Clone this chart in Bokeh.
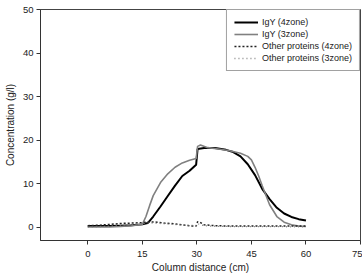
from bokeh.plotting import figure
from bokeh.models import Range1d, FixedTicker, Legend, LegendItem
from bokeh.embed import file_html
from bokeh.resources import INLINE

# Data
igy4_x = [0, 3, 6, 9, 12, 15, 16.5, 18, 20, 22, 24, 26, 28, 29.8, 30.2, 32, 35, 38, 40, 42, 44, 46, 48, 50, 52, 54, 56, 58, 60]
igy4_y = [0.3, 0.3, 0.3, 0.4, 0.5, 0.7, 1.0, 2.5, 4.8, 7.2, 9.6, 11.8, 13.0, 14.4, 18.0, 18.2, 18.2, 17.8, 17.3, 16.3, 14.5, 12.0, 8.8, 6.5, 4.5, 3.2, 2.4, 1.9, 1.6]

igy3_x = [0, 3, 6, 9, 12, 15, 16, 17, 18, 20, 22, 24, 26, 28, 29.8, 30.2, 31, 33, 36, 39, 42, 44, 45, 46, 47, 48, 50, 52, 54, 56, 58, 60]
igy3_y = [0.1, 0.1, 0.1, 0.2, 0.4, 0.7, 2.5, 5.0, 7.3, 10.3, 12.3, 13.8, 14.8, 15.4, 15.8, 18.6, 18.9, 18.3, 18.0, 17.6, 17.0, 16.3, 15.5, 13.8, 11.8, 9.5, 5.2, 2.5, 1.2, 0.6, 0.3, 0.2]

oth4_x = [0, 3, 6, 9, 12, 15, 17, 19, 21, 23, 25, 27, 29, 29.8, 30.2, 31, 32, 35, 40, 45, 50, 55, 60]
oth4_y = [0.4, 0.5, 0.7, 0.9, 1.0, 1.1, 1.3, 1.2, 1.0, 0.9, 0.7, 0.5, 0.3, 0.3, 1.3, 1.1, 0.6, 0.4, 0.3, 0.3, 0.3, 0.3, 0.3]

oth3_x = [0, 3, 6, 9, 12, 15, 17, 20, 25, 29.8, 30.2, 31, 33, 40, 50, 60]
oth3_y = [0.0, 0.1, 0.3, 0.5, 0.7, 0.9, 1.0, 0.9, 0.6, 0.4, 0.9, 0.6, 0.3, 0.2, 0.2, 0.1]

x_ticks = [0, 15, 30, 45, 60, 75]
y_ticks = [0, 10, 20, 30, 40, 50]

FONT = "Liberation Sans"

p = figure(width=362, height=275, output_backend="svg", toolbar_location=None,
           x_range=Range1d(-13, 75), y_range=Range1d(-3, 50),
           min_border_left=40, min_border_right=2, min_border_top=9, min_border_bottom=35)

p.xgrid.visible = False
p.ygrid.visible = False
p.outline_line_color = "#444444"
p.outline_line_width = 1
p.background_fill_color = "white"
p.border_fill_color = "white"

for ax in (p.xaxis[0], p.yaxis[0]):
    ax.major_label_text_font = FONT
    ax.major_label_text_font_size = "9.5px"
    ax.major_label_text_color = "#222222"
    ax.axis_label_text_font = FONT
    ax.axis_label_text_font_size = "10px"
    ax.axis_label_text_font_style = "normal"
    ax.axis_label_text_color = "#222222"
    ax.minor_tick_line_color = None
    ax.major_tick_out = 4
    ax.major_tick_in = 0
    ax.axis_line_color = "#333333"
    ax.major_tick_line_color = "#333333"

p.xaxis.ticker = FixedTicker(ticks=x_ticks)
p.yaxis.ticker = FixedTicker(ticks=y_ticks)
p.xaxis.axis_label = "Column distance (cm)"
p.yaxis.axis_label = "Concentration (g/l)"
p.xaxis.major_label_standoff = 6
p.yaxis.major_label_standoff = 3
p.xaxis.axis_label_standoff = 2
p.yaxis.axis_label_standoff = 4

r1 = p.line(igy4_x, igy4_y, line_color="black", line_width=2)
r2 = p.line(igy3_x, igy3_y, line_color="#808080", line_width=1.6)
r3 = p.line(oth4_x, oth4_y, line_color="#222222", line_width=1.5, line_dash="2 2")
r4 = p.line(oth3_x, oth3_y, line_color="#888888", line_width=1.3, line_dash="1 3")

legend = Legend(items=[
    LegendItem(label="IgY (4zone)", renderers=[r1]),
    LegendItem(label="IgY (3zone)", renderers=[r2]),
    LegendItem(label="Other proteins (4zone)", renderers=[r3]),
    LegendItem(label="Other proteins (3zone)", renderers=[r4]),
], location="top_right")
legend.label_text_font = FONT
legend.label_text_font_size = "9px"
legend.label_text_color = "#222222"
legend.label_height = 10
legend.glyph_height = 10
legend.glyph_width = 24
legend.label_standoff = 4
legend.spacing = 2
legend.padding = 7
legend.margin = 0
legend.border_line_color = "#444444"
legend.border_line_width = 1
legend.background_fill_alpha = 1
p.add_layout(legend)

open("out.html", "w").write(file_html(p, INLINE))
